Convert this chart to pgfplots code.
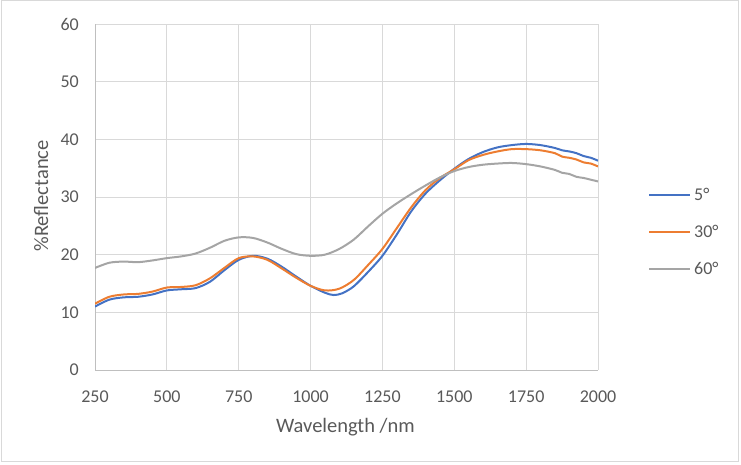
\documentclass[border=0pt]{standalone}
\usepackage{pgfplots}
\pgfplotsset{compat=1.18}
\usepackage{pgfplotstable}
\usepackage{fontspec}
\setmainfont{Carlito}
\definecolor{sblue}{HTML}{4472C4}
\definecolor{sorange}{HTML}{ED7D31}
\definecolor{sgray}{HTML}{A5A5A5}
\definecolor{gridc}{HTML}{D9D9D9}
\definecolor{axisc}{HTML}{BFBFBF}
\definecolor{txt}{HTML}{595959}

\pgfplotstableread{
x y
250 11.0
300 12.2
350 12.6
400 12.7
450 13.1
500 13.8
550 14.0
600 14.2
650 15.3
700 17.3
750 19.1
800 19.8
850 19.3
900 17.9
950 16.2
1000 14.6
1050 13.4
1080 13.0
1110 13.3
1150 14.5
1200 17.0
1250 19.8
1300 23.5
1350 27.5
1400 30.6
1450 32.9
1500 34.9
1550 36.6
1600 37.8
1650 38.6
1700 39.0
1750 39.2
1800 39.0
1850 38.5
1875 38.1
1900 37.9
1925 37.6
1950 37.1
1975 36.8
2000 36.3
}\blue

\pgfplotstableread{
x y
250 11.5
300 12.7
350 13.1
400 13.2
450 13.6
500 14.3
550 14.4
600 14.7
650 15.9
700 17.7
750 19.4
800 19.7
850 19.1
900 17.6
950 16.0
1000 14.6
1050 13.8
1100 14.1
1150 15.6
1200 18.2
1250 21.0
1300 24.6
1350 28.2
1400 31.2
1450 33.3
1500 34.8
1550 36.4
1600 37.3
1650 37.9
1700 38.3
1750 38.3
1800 38.1
1850 37.6
1875 37.0
1900 36.8
1925 36.5
1950 36.0
1975 35.8
2000 35.3
}\orange

\pgfplotstableread{
x y
250 17.7
300 18.6
350 18.8
400 18.7
450 19.0
500 19.4
550 19.7
600 20.2
650 21.2
700 22.4
750 23.0
800 22.9
850 22.1
900 21.0
950 20.1
1000 19.8
1050 20.0
1100 21.0
1150 22.6
1200 24.9
1250 27.1
1300 28.9
1350 30.5
1400 32.0
1450 33.4
1500 34.5
1550 35.2
1600 35.6
1650 35.8
1700 35.9
1750 35.7
1800 35.3
1850 34.7
1875 34.2
1900 34.0
1925 33.5
1950 33.3
1975 33.0
2000 32.7
}\gray

\begin{document}
\begin{tikzpicture}
\useasboundingbox (0pt,0pt) rectangle (741pt,464pt);
\draw[gridc, line width=1pt] (1pt,3pt) rectangle (738pt,463pt);
\begin{axis}[
  at={(95pt,94pt)}, anchor=south west,
  scale only axis, width=503pt, height=346pt,
  xmin=250, xmax=2000, ymin=0, ymax=60,
  xtick={250,500,...,2000}, ytick={0,10,...,60},
  major tick length=0pt,
  grid=major,
  major grid style={gridc, line width=1pt},
  axis x line*=bottom, axis y line*=left,
  axis line style={axisc, line width=1pt, -},
  /pgf/number format/assume math mode=true,
  /pgf/number format/set thousands separator={},
  tick label style={font=\fontsize{18}{20}\selectfont, text=txt, inner sep=0pt},
  xticklabel style={anchor=north, yshift=-21pt},
  yticklabel style={anchor=east, xshift=-16pt},
  xlabel={Wavelength /nm},
  ylabel={\%Reflectance},
  label style={font=\fontsize{20.5}{22}\selectfont, text=txt},
  xlabel style={at={(axis description cs:0.498,-0.1792)}, anchor=base},
  ylabel style={at={(axis description cs:-0.0934,0.5029)}, anchor=base, rotate=0},
  legend style={at={(axis description cs:1.0994,0.399)}, anchor=west,
    draw=none, fill=none, inner sep=0pt, row sep=23pt, column sep=3pt,
    font=\fontsize{18}{20}\selectfont, text=txt, nodes={inner sep=0pt}},
  legend cell align=left,
  legend image code/.code={\draw[#1, line width=2pt] (0pt,0pt) -- (41pt,0pt);},
]
\addplot[sblue, line width=2pt, smooth] table[x=x,y=y] {\blue};
\addplot[sorange, line width=2pt, smooth] table[x=x,y=y] {\orange};
\addplot[sgray, line width=2pt, smooth] table[x=x,y=y] {\gray};
\legend{5°,30°,60°}
\end{axis}
\end{tikzpicture}
\end{document}
